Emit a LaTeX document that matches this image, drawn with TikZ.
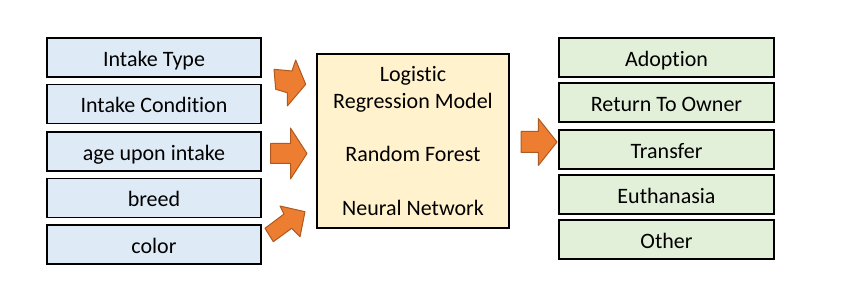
\documentclass[tikz,border=0pt]{standalone}
\usepackage{fontspec}
\setmainfont{Carlito}[Ligatures=NoCommon]

\definecolor{featfill}{HTML}{DEEBF7}
\definecolor{modelfill}{HTML}{FFF2CC}
\definecolor{outfill}{HTML}{E2F0D9}
\definecolor{arrowfill}{HTML}{ED7D31}
\definecolor{arrowline}{HTML}{AE5A21}

\tikzset{
  box/.style={draw, line width=1.9pt, inner sep=0pt, minimum height=39pt,
    text height=18pt, text depth=0pt, font=\fontsize{22}{24}\selectfont},
  feature/.style={box, fill=featfill, minimum width=214pt},
  outcome/.style={box, fill=outfill, minimum width=215pt},
  fatarrow/.style={fill=arrowfill, draw=arrowline, line width=1pt, line join=round}
}

\begin{document}
\begin{tikzpicture}[x=1pt,y=-1pt]
\useasboundingbox (0,0) rectangle (852,307);

% inputs
\node[feature] (type)  at (154,57.5)  {Intake Type};
\node[feature] (cond)  at (154,104)   {Intake Condition};
\node[feature] (age)   at (154,151.5) {age upon intake};
\node[feature] (breed) at (154,198)   {breed};
\node[feature] (color) at (154,244.5) {color};

% classifiers
\node[draw, line width=1.9pt, fill=modelfill, minimum width=192pt, minimum height=174pt,
      align=center, font=\fontsize{22}{26.7}\selectfont] (models) at (413,141)
  {Logistic\\Regression Model\\[26.7pt]Random Forest\\[26.7pt]Neural Network};

% outcomes
\node[outcome] (adopt)    at (666.5,57.5)  {Adoption};
\node[outcome] (owner)    at (666.5,102.5) {Return To Owner};
\node[outcome] (transfer) at (666.5,149.2) {Transfer};
\node[outcome] (euth)     at (666.5,194.5) {Euthanasia};
\node[outcome] (other)    at (666.5,239.2) {Other};

% block arrows
\draw[fatarrow] (274,69.3) -- (292,71) -- (295.7,60) -- (305.7,84.3) -- (287.3,106)
  -- (287.3,92.7) -- (275.7,89.3) -- cycle;
\draw[fatarrow] (270.5,143.5) -- (290.5,143.5) -- (290.5,128) -- (307,153.5)
  -- (290.5,179) -- (290.5,163.5) -- (270.5,163.5) -- cycle;
\draw[fatarrow] (265,228.3) -- (284,214) -- (280,206) -- (305,211.7) -- (300,236.7)
  -- (291.7,228.3) -- (273.3,241.7) -- cycle;
\draw[fatarrow] (521,131.5) -- (538.3,131.5) -- (538.3,118.5) -- (557,142)
  -- (538.3,165.5) -- (538.3,152.5) -- (521,152.5) -- cycle;
\end{tikzpicture}
\end{document}
